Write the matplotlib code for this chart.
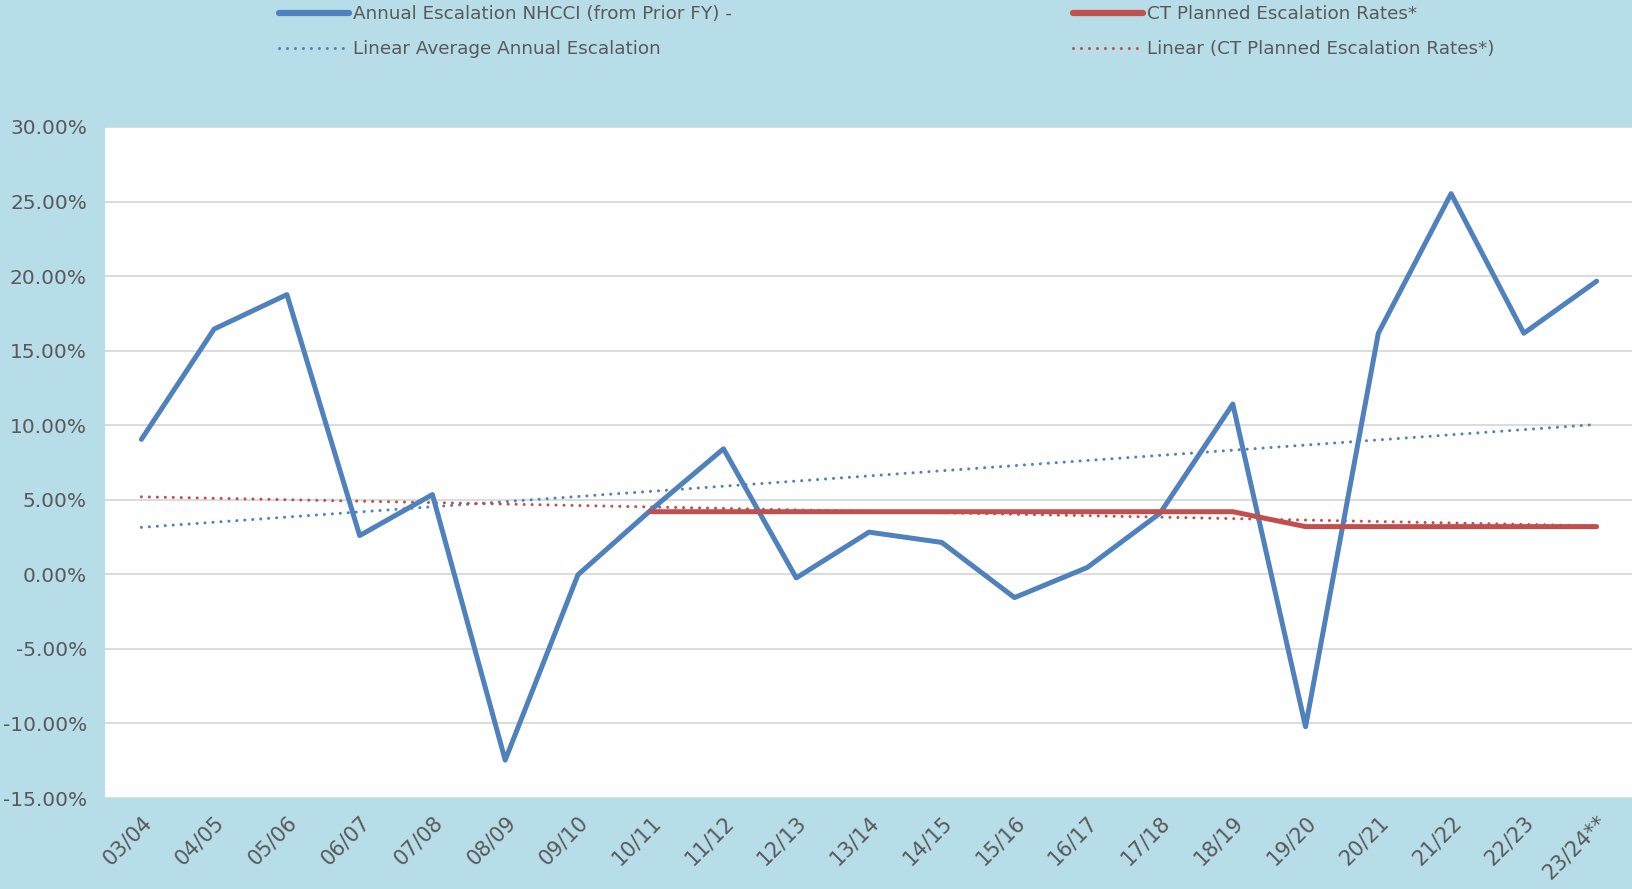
import matplotlib
matplotlib.use("Agg")
from matplotlib import pyplot as plt
from matplotlib.lines import Line2D
import numpy as np

# fiscal years on the x axis
years = ["03/04", "04/05", "05/06", "06/07", "07/08", "08/09", "09/10", "10/11",
         "11/12", "12/13", "13/14", "14/15", "15/16", "16/17", "17/18", "18/19",
         "19/20", "20/21", "21/22", "22/23", "23/24**"]

# annual escalation NHCCI (percent)
nhcci = [9.05, 16.45, 18.76, 2.6, 5.35, -12.46, -0.03, 4.3, 8.42, -0.24, 2.83,
         2.14, -1.56, 0.46, 4.1, 11.42, -10.22, 16.17, 25.53, 16.17, 19.66]

# CT planned escalation rates (percent), only from 10/11 on
ct_years = years[7:]
ct_rates = [4.2, 4.2, 4.2, 4.2, 4.2, 4.2, 4.2, 4.2, 4.2, 3.2, 3.2, 3.2, 3.2, 3.2]

# trendline end points (percent)
trend_years = [years[0], years[-1]]
nhcci_trend = [3.15, 10.05]
ct_trend = [5.2, 3.25]

BG = "#B7DDE8"
BLUE = "#4F81BD"
RED = "#C0504D"
TXT = "#595959"
DOTS = (0, (0.01, 2.6))

plt.rcParams['font.family'] = ['DejaVu Sans']

fig = plt.figure(figsize=(16.33, 8.89), dpi=100, facecolor=BG)
ax = fig.add_axes([105 / 1633, 1 - 798 / 889, 1 - 105 / 1633, (798 - 127) / 889])
ax.set_facecolor("white")

xi = {y: i for i, y in enumerate(years)}
x_all = [xi[y] for y in years]
x_ct = [xi[y] for y in ct_years]
x_tr = [xi[y] for y in trend_years]

ax.plot(x_all, nhcci, color=BLUE, lw=3.6, solid_capstyle="round", solid_joinstyle="round", zorder=3)
ax.plot(x_ct, ct_rates, color=RED, lw=3.6, solid_capstyle="round", solid_joinstyle="round", zorder=4)
ax.plot(x_tr, nhcci_trend, color=BLUE, lw=2.2, linestyle=DOTS, dash_capstyle="round", zorder=2)
ax.plot(x_tr, ct_trend, color=RED, lw=2.2, linestyle=DOTS, dash_capstyle="round", zorder=2)

ax.set_xlim(-0.5, len(years) - 0.5)
ax.set_ylim(-15, 30)
ax.set_yticks(np.arange(-15, 31, 5))
ax.set_yticklabels(["%.2f%%" % v for v in np.arange(-15, 31, 5)])
ax.set_xticks(x_all)
ax.set_xticklabels(years, rotation=45, ha="right", rotation_mode="anchor")
ax.tick_params(axis="both", length=0, colors=TXT)
ax.tick_params(axis="y", pad=13, labelsize=14.5)
ax.tick_params(axis="x", pad=10, labelsize=15)
ax.grid(axis="y", color="#D9D9D9", lw=1.3)
ax.set_axisbelow(True)
for s in ax.spines.values():
    s.set_visible(False)

h1 = [Line2D([], [], color=BLUE, lw=4.5, solid_capstyle="round"),
      Line2D([], [], color=BLUE, lw=2.2, linestyle=DOTS, dash_capstyle="round")]
h2 = [Line2D([], [], color=RED, lw=4.5, solid_capstyle="round"),
      Line2D([], [], color=RED, lw=2.2, linestyle=DOTS, dash_capstyle="round")]
leg_kw = dict(loc="upper left", frameon=False, fontsize=13.2, labelcolor=TXT,
              handlelength=3.8, handletextpad=0.25, borderpad=0, borderaxespad=0,
              labelspacing=0.95)
fig.legend(h1, ["Annual Escalation NHCCI (from Prior FY) -", "Linear Average Annual Escalation"],
           bbox_to_anchor=(279 / 1633, 1 - 5 / 889), **leg_kw)
fig.legend(h2, ["CT Planned Escalation Rates*", "Linear (CT Planned Escalation Rates*)"],
           bbox_to_anchor=(1073 / 1633, 1 - 5 / 889), **leg_kw)

fig.savefig("out.png", dpi=100, facecolor=BG)
